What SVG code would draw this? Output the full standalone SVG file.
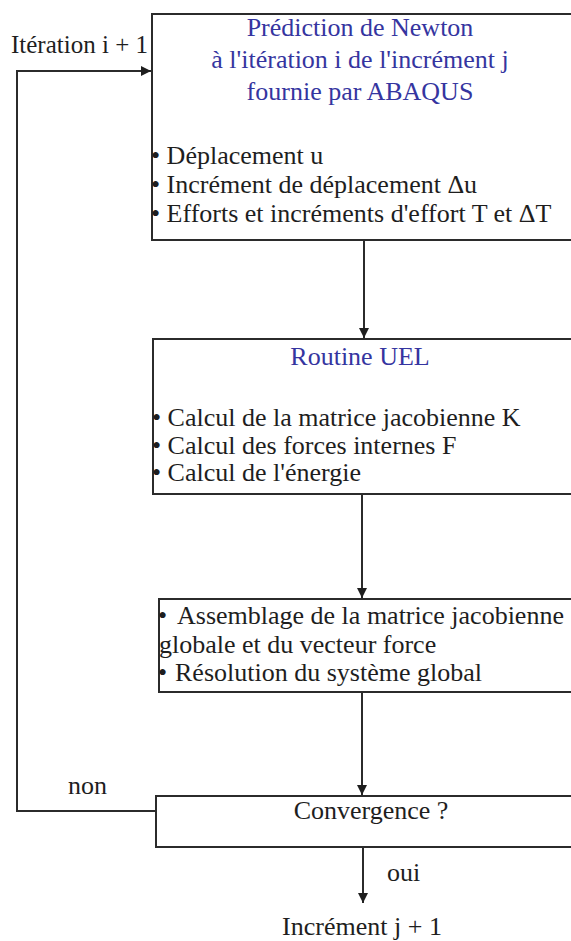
<svg xmlns="http://www.w3.org/2000/svg" width="571" height="941" viewBox="0 0 571 941">
  <style>
    .box { fill: #ffffff; stroke: #2b2b2b; stroke-width: 2; }
    .t { font-family: "Liberation Serif", "Times New Roman", serif; font-size: 26px; fill: #1e1e1e; }
    .title { fill: #3535a0; text-anchor: middle; }
    .mid { text-anchor: middle; }
    .link { fill: none; stroke: #2b2b2b; stroke-width: 2; marker-end: url(#arrow); }
  </style>
  <defs>
    <marker id="arrow" viewBox="0 0 10 10" refX="10" refY="5" markerWidth="12" markerHeight="10" markerUnits="userSpaceOnUse" orient="auto">
      <path d="M0,0 L10,5 L0,10 z" fill="#1e1e1e"/>
    </marker>
  </defs>
  <rect width="571" height="941" fill="#ffffff"/>

  <!-- connectors -->
  <g id="connectors">
    <path class="link" d="M156,811 H17 V71 H151"/>
    <path class="link" d="M364,241 V338"/>
    <path class="link" d="M362,495 V598"/>
    <path class="link" d="M362,693 V795"/>
    <path class="link" d="M363,848 V903"/>
  </g>

  <!-- Newton prediction -->
  <g id="newton">
    <rect class="box" x="152" y="14" width="460" height="226"/>
    <text class="t title" x="360" y="36">Prédiction de Newton</text>
    <text class="t title" x="360" y="68">à l'itération i de l'incrément j</text>
    <text class="t title" x="360" y="100">fournie par ABAQUS</text>
    <text class="t" x="151" y="164">• Déplacement u</text>
    <text class="t" x="151" y="193">• Incrément de déplacement Δu</text>
    <text class="t" x="151" y="222">• Efforts et incréments d'effort T et ΔT</text>
  </g>

  <!-- UEL routine -->
  <g id="uel">
    <rect class="box" x="153" y="339" width="460" height="155"/>
    <text class="t title" x="360" y="365">Routine UEL</text>
    <text class="t" x="152" y="426">• Calcul de la matrice jacobienne K</text>
    <text class="t" x="152" y="454">• Calcul des forces internes F</text>
    <text class="t" x="152" y="481">• Calcul de l'énergie</text>
  </g>

  <!-- global assembly -->
  <g id="assemblage">
    <rect class="box" x="159" y="599" width="460" height="93"/>
    <text class="t" y="624"><tspan x="158">•</tspan><tspan x="177">Assemblage de la matrice jacobienne</tspan></text>
    <text class="t" x="159" y="653">globale et du vecteur force</text>
    <text class="t" y="681"><tspan x="158">•</tspan><tspan x="175">Résolution du système global</tspan></text>
  </g>

  <!-- convergence test -->
  <g id="convergence">
    <rect class="box" x="156" y="796" width="460" height="51"/>
    <text class="t mid" x="371" y="819">Convergence ?</text>
  </g>

  <!-- labels -->
  <g id="labels">
    <text class="t" x="11" y="53" style="font-size:25px">Itération i + 1</text>
    <text class="t" x="68" y="794">non</text>
    <text class="t" x="387" y="881">oui</text>
    <text class="t mid" x="362" y="935">Incrément j + 1</text>
  </g>
</svg>
